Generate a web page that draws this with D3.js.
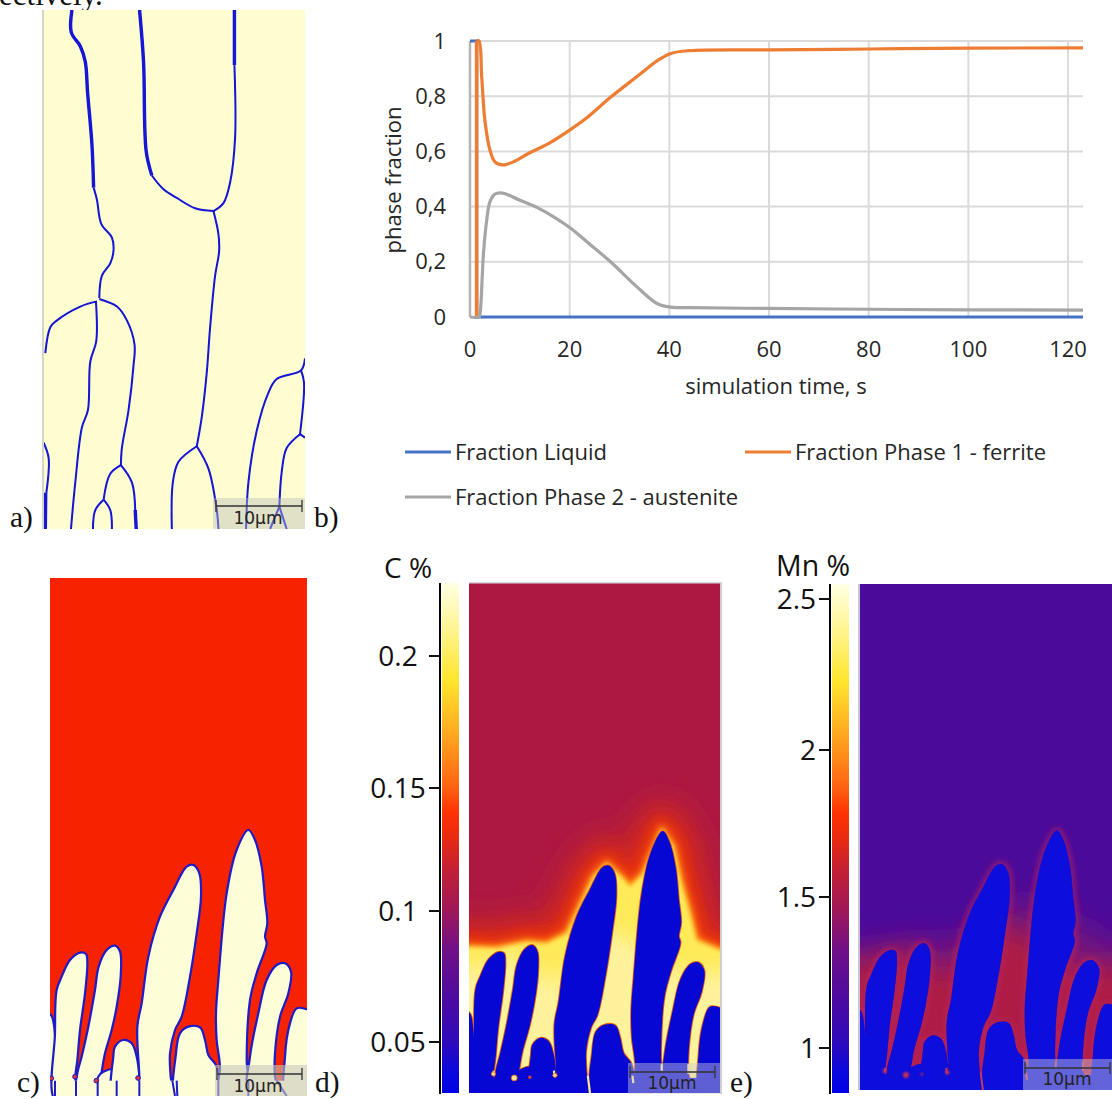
<!DOCTYPE html>
<html><head><meta charset="utf-8">
<script src="https://cdn.jsdelivr.net/npm/d3@7"></script>
<style>html,body{margin:0;padding:0;background:#fff;overflow:hidden}svg{display:block}</style>
</head><body><div id="c"></div>
<script>
// ---------- phase fraction chart ----------
const xTicks=[0,20,40,60,80,100,120];
const yTicks=[0,0.2,0.4,0.6,0.8,1];
const yTickLabels=["0","0,2","0,4","0,6","0,8","1"];
const liquid=[[0,1],[1.33,1],[1.33,0],[123,0]];
const ferriteRise=[[1.33,0],[1.33,1]];
const ferrite=[[1.33,1],[1.8,1],[2.35,.87],[3,.71],[4,.605],[5,.562],[6.5,.551],[8.7,.562],[12,.595],[16,.631],[20,.677],[23.5,.723],[28.2,.796],[33.5,.871],[37.6,.929],[40.3,.955],[44,.965],[60,.968],[80,.971],[100,.974],[123,.975]];
const austenite=[[0,0],[1.8,0],[2,.01],[2.7,.23],[3.35,.35],[4,.417],[5,.445],[6.5,.449],[10,.423],[13.4,.397],[16.8,.363],[20,.324],[23.5,.272],[28.2,.2],[33.5,.109],[37.6,.048],[40.3,.036],[44,.034],[60,.031],[80,.028],[100,.026],[123,.025]];
const legendNames=["Fraction Liquid","Fraction Phase 1 - ferrite","Fraction Phase 2 - austenite"];
// ---------- colour bars ----------
const cTicks=[0.05,0.1,0.15,0.2];
const cTickLabels=["0.05","0.1","0.15","0.2"];
const mnTicks=[1,1.5,2,2.5];
const mnTickLabels=["1","1.5","2","2.5"];
const ramp=[[0,"#FFFFE4"],[.07,"#FFF7A4"],[.19,"#FFE62E"],[.29,"#FFAC20"],[.40,"#FF6212"],[.45,"#FF3202"],[.5,"#E82A10"],[.56,"#C42034"],[.64,"#A01858"],[.72,"#701088"],[.82,"#4A0AA2"],[.9,"#2E0ABC"],[.96,"#0A08DE"],[1,"#0000E8"]];
// ---------- microstructure outlines, in field units ----------
const den0=[[135,900],[135,650],[145,640],[156,650],[156,900]];
const den1=[[165,900],[165,700],[170,570],[185,530],[210,480],[240,458],[258,462],[262,490],[255,580],[240,690],[232,780],[226,830],[228,900]];
const den2=[[228,900],[232,820],[245,770],[265,680],[285,570],[296,500],[320,450],[345,437],[360,455],[362,530],[350,620],[335,690],[315,760],[305,815],[293,900]];
const den3=[[293,900],[295,830],[310,815],[345,810],[350,900]];
const den4=[[340,900],[340,770],[345,740],[370,720],[395,730],[410,770],[418,830],[418,900]];
const den5=[[418,900],[418,830],[412,680],[425,610],[445,470],[480,350],[520,270],[560,200],[580,195],[598,220],[603,290],[590,400],[570,530],[545,650],[525,690],[510,760],[512,830],[520,900]];
const den6=[[530,900],[528,760],[540,700],[565,680],[600,682],[615,720],[625,765],[650,800],[655,900]];
const den7=[[655,900],[660,800],[650,720],[648,640],[655,540],[680,280],[710,150],[745,90],[765,120],[785,200],[795,300],[802,370],[795,410],[800,430],[770,520],[750,600],[740,780],[745,900]];
const den8=[[745,900],[750,770],[775,640],[800,540],[830,495],[855,490],[873,515],[865,580],[840,650],[825,760],[825,830],[840,900]];
const den9=[[860,900],[855,770],[870,670],[890,625],[921,628],[940,640],[940,900]];
const dendrites=[den0,den1,den2,den3,den4,den5,den6,den7,den8,den9];
const front=[[60,442],[151,442],[235,447],[327,427],[388,432],[450,401],[532,229],[573,188],[624,234],[644,259],[685,219],[742,84],[778,137],[803,249],[829,340],[849,422],[921,452],[1010,452],[1010,1000],[60,1000]];
const frontMn=[[60,470],[150,470],[300,450],[420,450],[520,430],[620,330],[660,320],[700,360],[820,400],[921,470],[1010,470],[1010,1000],[60,1000]];
const pool=[[60,510],[150,510],[300,470],[420,560],[560,380],[680,440],[790,520],[921,520],[1010,520],[1010,1000],[60,1000]];
const tails=[[[515,835],[522,892]],[[652,835],[655,858]],[[226,820],[225,834]],[[411,820],[412,838]],[[742,800],[742,820]],[[824,800],[824,830]]];
const droplets=[[289,842,7],[337,840,3],[225,830,5],[414,834,5],[154,835,4]];
const rootLines=[[[165,842],[165,888]],[[228,842],[228,888]],[[293,842],[293,888]],[[350,842],[350,888]],[[418,842],[418,888]],[[517,842],[525,888]],[[530,842],[532,888]],[[655,842],[655,888]],[[745,842],[745,888]],[[830,842],[860,888]]];
// ---------- grain boundary network of panel a ----------
const thickA=[
 [[215,30],[213,95],[240,135],[255,180],[262,270],[275,420],[280,545]],
 [[418,30],[430,180],[438,440],[455,510]],
 [[703,30],[703,190]],
 [[136,1430],[135,1535]],[[405,1480],[408,1535]]
];
const thinA=[
 [[280,545],[290,580],[303,650],[335,690],[340,725],[330,765],[305,800],[297,865]],
 [[455,510],[490,550],[530,575],[585,605],[640,613]],
 [[703,190],[705,400],[690,530],[670,590],[640,613]],
 [[640,613],[655,680],[657,730],[645,800],[630,950],[620,1080],[605,1210],[590,1295]],
 [[290,875],[240,890],[170,930],[150,950],[135,1025]],
 [[287,875],[288,990],[270,1050],[263,1190],[245,1240],[225,1400],[212,1535]],
 [[297,868],[350,890],[380,930],[403,1000],[400,1060],[385,1190],[365,1300],[362,1350]],
 [[362,1350],[330,1375],[310,1450]],[[362,1350],[395,1400],[405,1480]],
 [[310,1450],[285,1480],[278,1535]],[[310,1450],[330,1480],[335,1535]],
 [[590,1295],[535,1340],[518,1400],[515,1535]],[[590,1295],[625,1360],[650,1480],[655,1535]],
 [[915,1040],[903,1075],[830,1100],[805,1140],[770,1250],[745,1400],[738,1535]],
 [[903,1075],[912,1110],[900,1260]],[[900,1260],[915,1270]],
 [[900,1260],[860,1300],[845,1370],[838,1470]],[[838,1470],[810,1535]],[[838,1470],[860,1535]],
 [[130,1285],[145,1330],[138,1430]]
];

const W=1112,H=1099;
const svg=d3.select("#c").append("svg").attr("width",W).attr("height",H);
const defs=svg.append("defs");
const UI="'Open Sans',sans-serif", SERIF="'Liberation Serif',serif", SB="'DejaVu Sans',sans-serif";
[0.4,1,2,3,6,8,10,14,18].forEach(s=>defs.append("filter").attr("id","b"+String(s).replace(".","_"))
  .attr("filterUnits","userSpaceOnUse").attr("x",-100).attr("y",0).attr("width",W+300).attr("height",H+100)
  .append("feGaussianBlur").attr("stdDeviation",s));
const blur=s=>`url(#b${String(s).replace(".","_")})`;

// page text
svg.append("text").attr("x",-1).attr("y",5).attr("font-family",SERIF).attr("font-size",31).attr("fill","#111").text("ectively.");
[["a)",10,527],["b)",314,527],["c)",17,1092],["d)",315,1092],["e)",730,1092]].forEach(([t,x,y])=>
  svg.append("text").attr("x",x).attr("y",y).attr("font-family",SERIF).attr("font-size",29.5).attr("fill","#111").text(t));

// ---------- b) line chart ----------
const x=d3.scaleLinear().domain([0,123]).range([470,1083]);
const y=d3.scaleLinear().domain([0,1]).range([317,41]);
const gc=svg.append("g");
gc.append("g").selectAll("line").data(xTicks.slice(1)).join("line")
  .attr("x1",d=>x(d)).attr("x2",d=>x(d)).attr("y1",y(1)).attr("y2",y(0)).attr("stroke","#DADADA").attr("stroke-width",2);
gc.append("g").selectAll("line").data(yTicks).join("line")
  .attr("x1",x(0)).attr("x2",x(123)).attr("y1",d=>y(d)).attr("y2",d=>y(d)).attr("stroke","#DADADA").attr("stroke-width",2);
gc.append("line").attr("x1",x(0)).attr("x2",x(0)).attr("y1",y(1)).attr("y2",y(0)).attr("stroke","#B4B4B4").attr("stroke-width",2.5);
const ln=d3.line().x(d=>x(d[0])).y(d=>y(d[1])).curve(d3.curveCatmullRom.alpha(.5));
const lnL=d3.line().x(d=>x(d[0])).y(d=>y(d[1]));
const gl=gc.append("g").attr("fill","none").attr("stroke-width",3.2).attr("filter",blur(0.4));
gl.append("path").attr("d",lnL(liquid)).attr("stroke","#4472C4");
gl.append("path").attr("d",lnL(ferriteRise)).attr("stroke","#ED7D31").attr("stroke-width",3.6);
gl.append("path").attr("d",ln(ferrite)).attr("stroke","#ED7D31");
gl.append("path").attr("d",ln(austenite)).attr("stroke","#A5A5A5");
const ct="#262626", fs=22;
gc.append("g").selectAll("text").data(xTicks).join("text").attr("x",d=>x(d)).attr("y",357).attr("text-anchor","middle")
  .attr("font-family",UI).attr("font-size",fs).attr("fill",ct).text(d=>d);
gc.append("g").selectAll("text").data(yTicks).join("text").attr("x",446).attr("y",d=>y(d)+7.5).attr("text-anchor","end")
  .attr("font-family",UI).attr("font-size",fs).attr("fill",ct).text((d,i)=>yTickLabels[i]);
gc.append("text").attr("transform","translate(401,180) rotate(-90)").attr("text-anchor","middle").attr("font-family",UI).attr("font-size",fs).attr("fill",ct).text("phase fraction");
gc.append("text").attr("x",776).attr("y",394).attr("text-anchor","middle").attr("font-family",UI).attr("font-size",fs).attr("fill",ct).text("simulation time, s");
[[405,452,"#4472C4",0],[745,452,"#ED7D31",1],[405,497,"#A5A5A5",2]].forEach(([lx,ly,col,i])=>{
  gc.append("line").attr("x1",lx).attr("x2",lx+46).attr("y1",ly).attr("y2",ly).attr("stroke",col).attr("stroke-width",3);
  gc.append("text").attr("x",lx+50).attr("y",ly+7.5).attr("font-family",UI).attr("font-size",fs).attr("fill",ct).text(legendNames[i]);
});

// ---------- shared helpers ----------
function panel(id,x0,x1,y0,y1){
  defs.append("clipPath").attr("id",id).append("rect").attr("x",x0).attr("y",y0).attr("width",x1-x0).attr("height",y1-y0);
  return svg.append("g").attr("clip-path",`url(#${id})`);
}
function scaleBar(box,lineY,lx0,lx1,tx,ty,fill){
  const g=svg.append("g");
  g.append("rect").attr("x",box[0]).attr("y",box[1]).attr("width",box[2]-box[0]).attr("height",box[3]-box[1]).attr("fill",fill);
  g.append("path").attr("d",`M${lx0},${lineY-6}V${lineY+6}M${lx0},${lineY}H${lx1}M${lx1},${lineY-6}V${lineY+6}`).attr("stroke","#333").attr("stroke-width",1.3).attr("fill","none");
  g.append("text").attr("x",tx).attr("y",ty).attr("text-anchor","middle").attr("font-family",SB).attr("font-size",17).attr("fill","#222").text("10µm");
}

// ---------- a) grain network ----------
const ax=d3.scaleLinear().domain([128,915]).range([43,305]);
const ay=d3.scaleLinear().domain([30,1535]).range([10,529]);
const ga=panel("pa",43,305,10,529);
ga.append("rect").attr("x",43).attr("y",10).attr("width",262).attr("height",519).attr("fill","#FEFDCF");
const la=d3.line().x(d=>ax(d[0])).y(d=>ay(d[1])).curve(d3.curveCatmullRom.alpha(.5));
const gan=ga.append("g").attr("fill","none").attr("stroke","#1212D6").attr("stroke-linejoin","round").attr("filter",blur(0.4));
gan.selectAll(".t").data(thinA).join("path").attr("class","t").attr("d",la).attr("stroke-width",2);
gan.selectAll(".k").data(thickA).join("path").attr("class","k").attr("d",la).attr("stroke-width",3.4);
svg.append("rect").attr("x",42).attr("y",10).attr("width",2).attr("height",519).attr("fill","#D4D4C8");
scaleBar([213,498,305,529],506,216,302,258,524,"rgba(190,190,190,.45)");

// ---------- field panels ----------
const ux=[150,921], vy=[-666,888];
const closed=(sx,sy)=>d3.line().x(d=>sx(d[0])).y(d=>sy(d[1])).curve(d3.curveCatmullRomClosed.alpha(.5));
const linear=(sx,sy)=>d3.line().x(d=>sx(d[0])).y(d=>sy(d[1]));

// c) phase map
{
  const sx=d3.scaleLinear().domain(ux).range([50,307]), sy=d3.scaleLinear().domain(vy).range([578,1096]);
  const g=panel("pc",50,307,578,1096), gi=g.append("g").attr("filter",blur(0.4));
  gi.append("rect").attr("x",50).attr("y",578).attr("width",257).attr("height",518).attr("fill","#F62400");
  gi.selectAll(".d").data(dendrites).join("path").attr("class","d").attr("d",closed(sx,sy)).attr("fill","#FDFDD8").attr("stroke","#1A1AC8").attr("stroke-width",2.2);
  gi.append("rect").attr("x",sx(168)).attr("y",sy(842)).attr("width",257).attr("height",60).attr("fill","#FDFDD8");
  gi.append("g").attr("stroke","#1A1AC8").attr("stroke-width",2).selectAll("path").data(rootLines).join("path").attr("d",linear(sx,sy));
  gi.selectAll("circle").data(droplets.filter(d=>d[2]>3)).join("circle").attr("cx",d=>sx(d[0])).attr("cy",d=>sy(d[1])).attr("r",2.3).attr("fill","#E03030").attr("stroke","#1A1AC8").attr("stroke-width",1);
  scaleBar([215,1065,307,1096],1074,217,302,258,1092,"rgba(200,200,190,.6)");
}
// d) carbon map
{
  const sx=d3.scaleLinear().domain(ux).range([469,720]), sy=d3.scaleLinear().domain(vy).range([583,1093]);
  const g=panel("pd",469,720,583,1093);
  g.append("rect").attr("x",469).attr("y",583).attr("width",251).attr("height",510).attr("fill","#AD1842");
  const ff=closed(sx,sy), lf=linear(sx,sy);
  const fp=lf(front)+"Z";
  [["#BE2030",64,14],["#DC2A16",36,10],["#F03A0A",16,6],["#FF9010",6,3],["#FFEA58",0,2]].forEach(([c,w,b])=>
    g.append("path").attr("d",fp).attr("fill",c).attr("stroke",c).attr("stroke-width",w).attr("stroke-linejoin","round").attr("filter",blur(b)));
  g.append("path").attr("d",lf(pool)+"Z").attr("fill","#FFF29C").attr("filter",blur(10));
  const bl="#0707D4";
  g.append("g").attr("filter",blur(0.4)).selectAll(".h").data(dendrites).join("path").attr("class","h").attr("d",ff).attr("fill","none").attr("stroke","#E8600C").attr("stroke-width",1.8);
  g.append("rect").attr("x",469).attr("y",sy(842)).attr("width",251).attr("height",60).attr("fill",bl);
  g.selectAll(".d").data(dendrites).join("path").attr("class","d").attr("d",ff).attr("fill",bl);
  g.selectAll(".tl").data(tails).join("path").attr("class","tl").attr("d",lf).attr("stroke","#FFE890").attr("stroke-width",2.2).attr("fill","none");
  g.selectAll("circle").data(droplets.slice(0,4)).join("circle").attr("cx",d=>sx(d[0])).attr("cy",d=>sy(d[1])).attr("r",d=>d[2]*.42).attr("fill",d=>d[2]>3?"#FFE890":"#D03030").attr("stroke","#F06010").attr("stroke-width",.8);
  svg.append("rect").attr("x",469).attr("y",582).attr("width",253).attr("height",1.5).attr("fill","#D8D8D8");
  svg.append("rect").attr("x",720).attr("y",583).attr("width",2).attr("height",511).attr("fill","#CFCFCF");
  scaleBar([628,1063,720,1094],1072,630,715,672,1089,"rgba(205,205,215,.45)");
}
// e) manganese map
{
  const sx=d3.scaleLinear().domain(ux).range([860,1115]), sy=d3.scaleLinear().domain(vy).range([584,1090]);
  const g=panel("pe",860,1112,584,1090);
  g.append("rect").attr("x",860).attr("y",584).attr("width",252).attr("height",506).attr("fill","#4B0A9A");
  const ff=closed(sx,sy), lf=linear(sx,sy);
  const fp=lf(frontMn)+"Z";
  g.append("path").attr("d",fp).attr("fill","#6E1282").attr("stroke","#6E1282").attr("stroke-width",16).attr("filter",blur(14));
  g.append("path").attr("d",lf(pool)+"Z").attr("fill","#AE1A44").attr("stroke","#AE1A44").attr("stroke-width",10).attr("filter",blur(14));
  const bl="#0A0ADC";
  g.append("g").attr("filter",blur(3)).selectAll(".h").data(dendrites).join("path").attr("class","h").attr("d",ff).attr("fill","none").attr("stroke","#B8245C").attr("stroke-width",4);
  g.append("rect").attr("x",860).attr("y",sy(842)).attr("width",252).attr("height",60).attr("fill",bl);
  g.append("g").attr("filter",blur(0.4)).selectAll(".d").data(dendrites).join("path").attr("class","d").attr("d",ff).attr("fill",bl);
  g.selectAll(".tl").data(tails).join("path").attr("class","tl").attr("d",lf).attr("stroke","#C83858").attr("stroke-width",2).attr("fill","none");
  g.append("g").attr("filter",blur(1)).selectAll("circle").data(droplets.slice(0,4)).join("circle").attr("cx",d=>sx(d[0])).attr("cy",d=>sy(d[1])).attr("r",d=>d[2]*.42).attr("fill","#C83050");
  svg.append("rect").attr("x",858).attr("y",584).attr("width",2).attr("height",506).attr("fill","#C8C4D8");
  scaleBar([1023,1059,1112,1090],1068,1025,1110,1067,1085,"rgba(205,205,215,.45)");
}

// ---------- colour bars ----------
const grad=defs.append("linearGradient").attr("id","ramp").attr("x1",0).attr("x2",0).attr("y1",0).attr("y2",1);
grad.selectAll("stop").data(ramp).join("stop").attr("offset",d=>d[0]).attr("stop-color",d=>d[1]);
function colorbar(barX,axisX,top,bottom,values,labels,scale,labelX,anchor,tick){
  svg.append("rect").attr("x",barX).attr("y",top).attr("width",17).attr("height",bottom-top).attr("fill","url(#ramp)");
  svg.append("line").attr("x1",axisX).attr("x2",axisX).attr("y1",top).attr("y2",bottom+1).attr("stroke","#000").attr("stroke-width",2);
  svg.append("g").selectAll("line").data(values).join("line").attr("x1",axisX-tick).attr("x2",axisX).attr("y1",scale).attr("y2",scale).attr("stroke","#111").attr("stroke-width",2);
  svg.append("g").selectAll("text").data(values).join("text").attr("x",labelX).attr("y",d=>scale(d)+10).attr("text-anchor",anchor)
    .attr("font-family",UI).attr("font-size",28).attr("fill","#111").text((d,i)=>labels[i]);
}
colorbar(442,440,583,1093,cTicks,cTickLabels,d3.scaleLinear().domain(cTicks).range([1042,911,788,656]),398,"middle",11);
colorbar(832,830,584,1093,mnTicks,mnTickLabels,d3.scaleLinear().domain(mnTicks).range([1048,897,750,599]),816,"end",11);
svg.append("text").attr("x",384).attr("y",578).attr("font-family",UI).attr("font-size",28).attr("fill","#111").text("C %");
svg.append("text").attr("x",776).attr("y",576).attr("font-family",UI).attr("font-size",28.5).attr("fill","#111").text("Mn %");
</script></body></html>
